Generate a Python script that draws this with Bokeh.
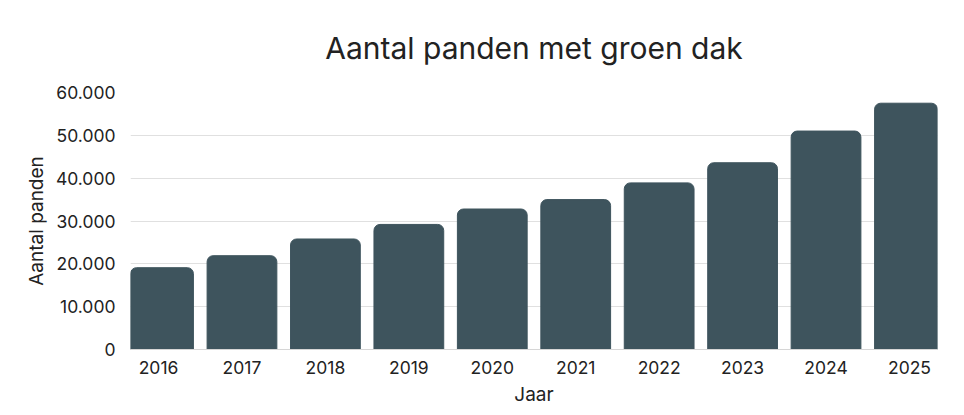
from bokeh.embed import file_html
from bokeh.models import FactorRange, FixedTicker, Range1d
from bokeh.plotting import figure
from bokeh.resources import INLINE

BAR_COLOR = "#3e545d"
TEXT_COLOR = "#222222"
FONT = "Inter"

years = ["2016", "2017", "2018", "2019", "2020",
         "2021", "2022", "2023", "2024", "2025"]
panden = [19100, 21900, 25800, 29200, 32800,
          35000, 38900, 43600, 51000, 57500]

y_ticks = [0, 10000, 20000, 30000, 40000, 50000, 60000]
y_tick_labels = ["0", "10.000", "20.000", "30.000",
                 "40.000", "50.000", "60.000"]

p = figure(width=956, height=408,
           x_range=FactorRange(factors=years, range_padding=-0.164,
                               range_padding_units="absolute"),
           y_range=Range1d(0, 60000),
           title="Aantal panden met groen dak",
           output_backend="svg", toolbar_location=None,
           min_border_left=130, min_border_right=19,
           min_border_top=91, min_border_bottom=58)

p.vbar(x=years, top=panden, width=0.836, color=BAR_COLOR,
       border_radius=(6, 6, 0, 0))

p.title.align = "center"
p.title.text_font = FONT
p.title.text_font_size = "30px"
p.title.text_font_style = "normal"
p.title.text_color = TEXT_COLOR
p.title.standoff = 54

p.outline_line_color = None
p.xgrid.grid_line_color = None
p.ygrid.grid_line_color = "#e0e0e0"
p.ygrid.ticker = FixedTicker(ticks=y_ticks)

p.yaxis.ticker = FixedTicker(ticks=y_ticks)
p.yaxis.major_label_overrides = dict(zip(y_ticks, y_tick_labels))
p.yaxis.axis_line_color = None
p.yaxis.major_tick_line_color = None
p.yaxis.minor_tick_line_color = None
p.yaxis.major_label_standoff = 9
p.yaxis.axis_label = "Aantal panden"
p.yaxis.axis_label_standoff = 5

p.xaxis.axis_line_color = "#d6d6d6"
p.xaxis.major_tick_line_color = None
p.xaxis.major_label_standoff = 5
p.xaxis.axis_label = "Jaar"
p.xaxis.axis_label_standoff = 6

for ax in (p.xaxis[0], p.yaxis[0]):
    ax.major_label_text_font = FONT
    ax.major_label_text_font_size = "17.5px"
    ax.major_label_text_color = TEXT_COLOR
    ax.axis_label_text_font = FONT
    ax.axis_label_text_font_size = "19px"
    ax.axis_label_text_font_style = "normal"
    ax.axis_label_text_color = TEXT_COLOR

open("out.html", "w").write(file_html(p, INLINE))
